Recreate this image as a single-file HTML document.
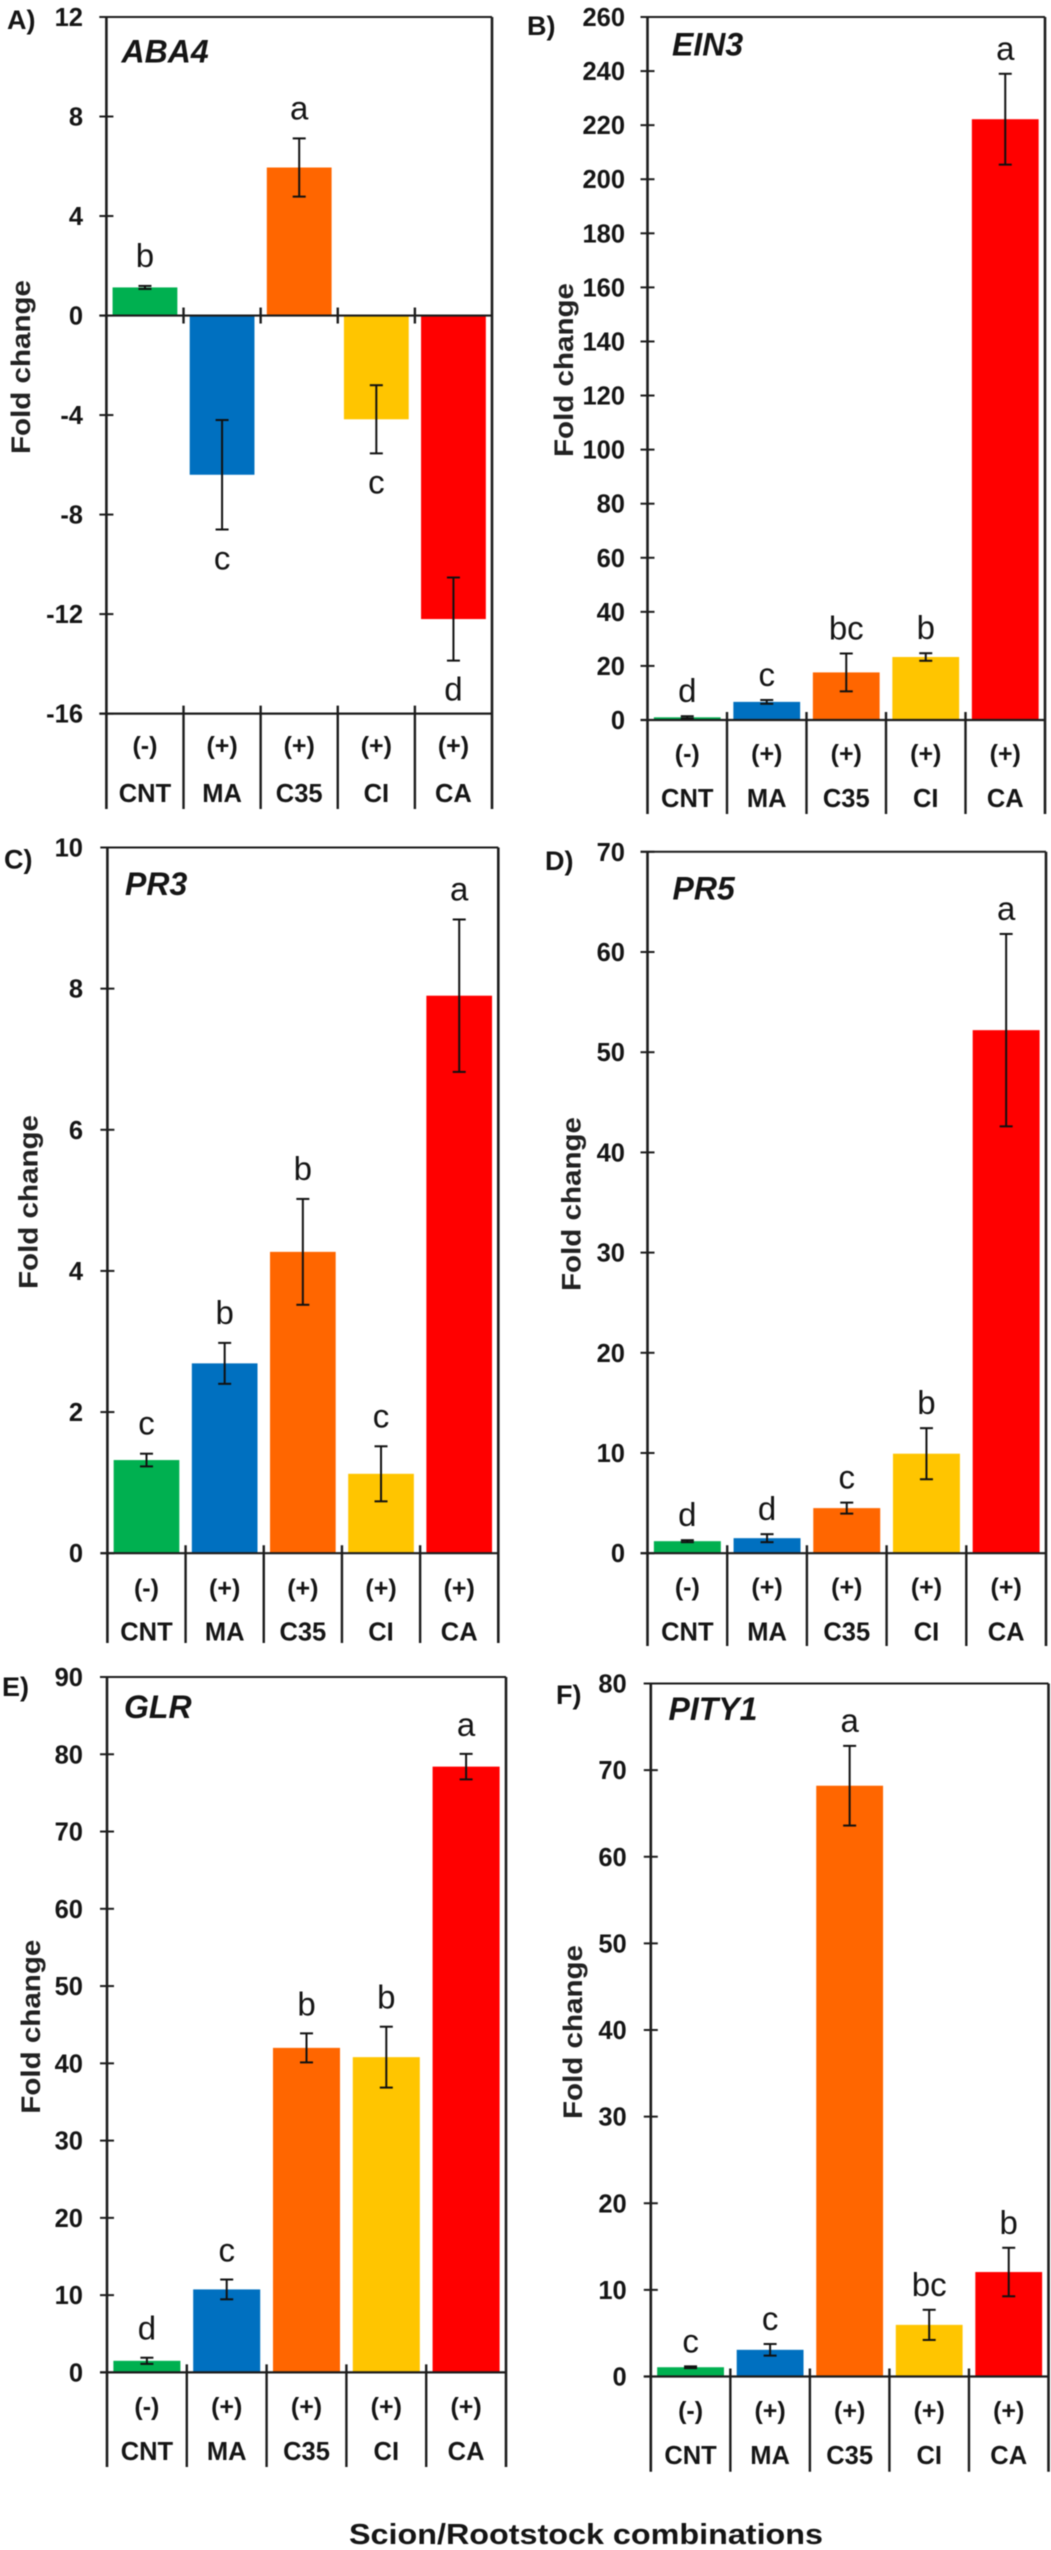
<!DOCTYPE html>
<html lang="en">
<head>
<meta charset="utf-8">
<title>Fold change by scion/rootstock combination</title>
<style>
html,body{margin:0;padding:0;background:#fff;}
svg{display:block;font-family:"Liberation Sans",Arial,sans-serif;filter:blur(0.55px);}
</style>
</head>
<body>
<svg id="figure" xmlns="http://www.w3.org/2000/svg" width="1051" height="2550" viewBox="0 0 1051 2550">
  <rect x="0" y="0" width="1051" height="2550" fill="#ffffff"/>
  <text x="586" y="2544" text-anchor="middle" font-size="29" font-weight="bold" fill="#151515" textLength="474" lengthAdjust="spacingAndGlyphs">Scion/Rootstock combinations</text>
</svg>
<script>
const categories = ['CNT', 'MA', 'C35', 'CI', 'CA'];
const graftSigns = ['(-)', '(+)', '(+)', '(+)', '(+)'];
const barColors = ['#00B050', '#0070C0', '#FF6600', '#FFC500', '#FF0000'];

const aba4Values = [1.13, -6.4, 5.95, -4.17, -12.2];
const aba4Errors = [0.06, 2.2, 1.17, 1.37, 1.67];
const aba4Letters = ['b', 'c', 'a', 'c', 'd'];
const aba4Ticks = [12, 8, 4, 0, -4, -8, -12, -16];

const ein3Values = [1, 6.7, 17.6, 23.3, 222.2];
const ein3Errors = [0.4, 0.7, 7, 1.4, 16.8];
const ein3Letters = ['d', 'c', 'bc', 'b', 'a'];
const ein3Ticks = [260, 240, 220, 200, 180, 160, 140, 120, 100, 80, 60, 40, 20, 0];

const pr3Values = [1.32, 2.69, 4.27, 1.125, 7.9];
const pr3Errors = [0.09, 0.29, 0.75, 0.39, 1.08];
const pr3Letters = ['c', 'b', 'b', 'c', 'a'];
const pr3Ticks = [10, 8, 6, 4, 2, 0];

const pr5Values = [1.2, 1.5, 4.5, 9.93, 52.2];
const pr5Errors = [0.1, 0.4, 0.55, 2.55, 9.6];
const pr5Letters = ['d', 'd', 'c', 'b', 'a'];
const pr5Ticks = [70, 60, 50, 40, 30, 20, 10, 0];

const glrValues = [1.5, 10.74, 42, 40.8, 78.4];
const glrErrors = [0.4, 1.28, 1.88, 3.94, 1.65];
const glrLetters = ['d', 'c', 'b', 'b', 'a'];
const glrTicks = [90, 80, 70, 60, 50, 40, 30, 20, 10, 0];

const pity1Values = [1.07, 3.08, 68.2, 5.96, 12.06];
const pity1Errors = [0.1, 0.67, 4.6, 1.74, 2.8];
const pity1Letters = ['c', 'c', 'a', 'bc', 'b'];
const pity1Ticks = [80, 70, 60, 50, 40, 30, 20, 10, 0];

const NS = 'http://www.w3.org/2000/svg';
const root = document.getElementById('figure');

function svgEl(parent, tag, attrs, text) {
  const node = document.createElementNS(NS, tag);
  for (const key in attrs) node.setAttribute(key, attrs[key]);
  if (text !== undefined) node.textContent = text;
  parent.appendChild(node);
  return node;
}

function drawPanel(p, values, errors, letters, ticks) {
  const group = svgEl(root, 'g', {});
  
  

  const domainMax = ticks[0];
  const domainMin = ticks[ticks.length - 1];
  const yOf = function (v) { return p.top + (domainMax - v) * (p.bottom - p.top) / (domainMax - domainMin); };
  const band = (p.right - p.left) / categories.length;
  const xOf = function (i) { return p.left + band * (i + 0.5); };
  const barW = band * 0.84;
  const zeroY = yOf(0);
  const stroke = '#1c1c1c';

  let el = svgEl(group, 'text', { x: p.labelX, y: p.labelY, 'font-size': 27, 'font-weight': 'bold', fill: '#151515' }, p.label);
  
  

  el = svgEl(group, 'text', { x: p.geneX, y: p.geneY, 'font-size': 32, 'font-weight': 'bold', 'font-style': 'italic', fill: '#151515' }, p.gene);
  
  

  el = svgEl(group, 'text', {
    x: 0, y: 0, 'font-size': 27, 'font-weight': 'bold', 'text-anchor': 'middle', fill: '#222',
    textLength: 174, lengthAdjust: 'spacingAndGlyphs',
    transform: 'translate(' + (p.titleX + 9) + ' ' + p.titleY + ') rotate(-90)'
  }, 'Fold change');
  
  

  values.forEach(function (v, i) {
    const y0 = yOf(Math.max(v, 0));
    const y1 = yOf(Math.min(v, 0));
    const bar = svgEl(group, 'rect', { x: xOf(i) - barW / 2, y: y0, width: barW, height: y1 - y0, fill: barColors[i] });
    
    
  });

  el = svgEl(group, 'line', { x1: p.left, x2: p.left, y1: p.top, y2: p.end, stroke: stroke, 'stroke-width': 2.6 });
  
  

  el = svgEl(group, 'line', { x1: p.right, x2: p.right, y1: p.top, y2: p.end, stroke: stroke, 'stroke-width': 2.6 });
  
  

  el = svgEl(group, 'line', { x1: p.left - 7, x2: p.right, y1: p.top, y2: p.top, stroke: stroke, 'stroke-width': 2 });
  
  

  el = svgEl(group, 'line', { x1: p.left - 7, x2: p.right, y1: p.bottom, y2: p.bottom, stroke: stroke, 'stroke-width': 2.2 });
  
  

  if (domainMin < 0) {
    el = svgEl(group, 'line', { x1: p.left - 7, x2: p.right, y1: zeroY, y2: zeroY, stroke: stroke, 'stroke-width': 2.2 });
    
    
  }

  ticks.forEach(function (t) {
    const ty = yOf(t);
    const mark = svgEl(group, 'line', { x1: p.left - 7, x2: p.left + 7, y1: ty, y2: ty, stroke: stroke, 'stroke-width': 2 });
    
    
    const label = svgEl(group, 'text', { x: p.tickX, y: ty + 9, 'font-size': 25.5, 'font-weight': 'bold', 'text-anchor': 'end', fill: '#151515' }, String(t));
    
    
  });

  for (let i = 1; i < categories.length; i++) {
    const sx = p.left + band * i;
    const sep = svgEl(group, 'line', { x1: sx, x2: sx, y1: p.bottom - 8, y2: p.end, stroke: stroke, 'stroke-width': 2.4 });
    
    
    if (domainMin < 0) {
      const notch = svgEl(group, 'line', { x1: sx, x2: sx, y1: zeroY - 8, y2: zeroY + 8, stroke: stroke, 'stroke-width': 2.4 });
      
      
    }
  }

  values.forEach(function (v, i) {
    const cx = xOf(i);
    const hiY = yOf(v + errors[i]);
    const loY = yOf(v - errors[i]);

    const stem = svgEl(group, 'line', { x1: cx, x2: cx, y1: hiY, y2: loY, stroke: '#111', 'stroke-width': 2 });
    
    
    const capTop = svgEl(group, 'line', { x1: cx - 6.5, x2: cx + 6.5, y1: hiY, y2: hiY, stroke: '#111', 'stroke-width': 2 });
    
    
    const capBottom = svgEl(group, 'line', { x1: cx - 6.5, x2: cx + 6.5, y1: loY, y2: loY, stroke: '#111', 'stroke-width': 2 });
    
    

    const letterY = v < 0 ? loY + 40 : hiY - p.letterGap;
    const letter = svgEl(group, 'text', { x: cx, y: letterY, 'font-size': 33, 'text-anchor': 'middle', fill: '#151515' }, letters[i]);
    
    

    const sign = svgEl(group, 'text', { x: cx, y: p.signY, 'font-size': 25, 'font-weight': 'bold', 'text-anchor': 'middle', fill: '#151515' }, graftSigns[i]);
    
    

    const cat = svgEl(group, 'text', { x: cx, y: p.catY, 'font-size': 25.5, 'font-weight': 'bold', 'text-anchor': 'middle', fill: '#151515' }, categories[i]);
    
    
  });
}

drawPanel({ label: 'A)', labelX: 7, labelY: 29, gene: 'ABA4', geneX: 121.5, geneY: 62.5, left: 106.4, right: 492, top: 17, bottom: 713.6, end: 809, tickX: 83, titleX: 21, titleY: 367, signY: 754, catY: 802, letterGap: 19 }, aba4Values, aba4Errors, aba4Letters, aba4Ticks);

drawPanel({ label: 'B)', labelX: 527, labelY: 35, gene: 'EIN3', geneX: 672, geneY: 55.5, left: 647.5, right: 1045, top: 17, bottom: 720, end: 814, tickX: 625, titleX: 564, titleY: 370, signY: 762, catY: 807, letterGap: 14 }, ein3Values, ein3Errors, ein3Letters, ein3Ticks);

drawPanel({ label: 'C)', labelX: 4, labelY: 868.5, gene: 'PR3', geneX: 125, geneY: 895, left: 107.4, right: 498.3, top: 847.5, bottom: 1553.2, end: 1643, tickX: 83, titleX: 28.7, titleY: 1202, signY: 1596.5, catY: 1640.5, letterGap: 19 }, pr3Values, pr3Errors, pr3Letters, pr3Ticks);

drawPanel({ label: 'D)', labelX: 545, labelY: 870, gene: 'PR5', geneX: 672.5, geneY: 899.5, left: 647.5, right: 1046, top: 851.8, bottom: 1553.2, end: 1646, tickX: 625, titleX: 571.3, titleY: 1204, signY: 1595.5, catY: 1640.5, letterGap: 14 }, pr5Values, pr5Errors, pr5Letters, pr5Ticks);

drawPanel({ label: 'E)', labelX: 2, labelY: 1696, gene: 'GLR', geneX: 124, geneY: 1718, left: 107, right: 506, top: 1677, bottom: 2372.4, end: 2467, tickX: 83, titleX: 31, titleY: 2026.7, signY: 2415, catY: 2460, letterGap: 18 }, glrValues, glrErrors, glrLetters, glrTicks);

drawPanel({ label: 'F)', labelX: 556, labelY: 1704, gene: 'PITY1', geneX: 668.5, geneY: 1720, left: 650.8, right: 1048.5, top: 1683.5, bottom: 2376.5, end: 2471.7, tickX: 626.7, titleX: 573, titleY: 2032, signY: 2419, catY: 2464, letterGap: 14 }, pity1Values, pity1Errors, pity1Letters, pity1Ticks);
</script>
</body>
</html>
